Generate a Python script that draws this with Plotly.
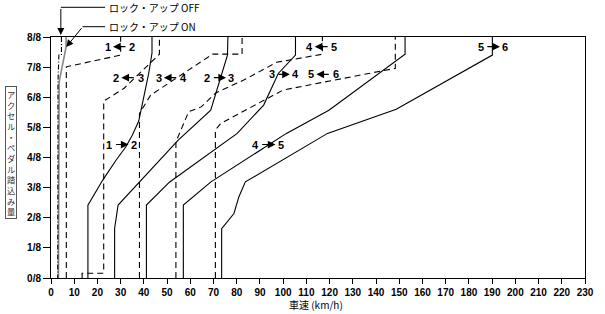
import plotly.graph_objects as go

# ---------------- data (km/h vs accelerator opening in eighths) ----------------
y_ticks = [0, 1, 2, 3, 4, 5, 6, 7, 8]
y_ticklabels = ["0/8", "1/8", "2/8", "3/8", "4/8", "5/8", "6/8", "7/8", "8/8"]

# up-shift lines (solid)
up12_x = [15.9, 15.9, 22.3, 28.0, 32.2, 35.0, 37.8, 40.7, 42.1, 43.5, 43.5]
up12_y = [0, 2.42, 3.25, 3.91, 4.35, 4.74, 5.21, 6.24, 6.80, 7.47, 8]
up23_x = [27.4, 27.4, 28.9, 50.5, 54.8, 68.8, 76.0, 76.2]
up23_y = [0, 1.65, 2.42, 4.24, 4.58, 5.57, 7.40, 8]
up34_x = [41.1, 41.1, 51.0, 63.3, 80.2, 91.6, 97.9, 105.3, 105.3]
up34_y = [0, 2.42, 3.18, 3.86, 4.80, 5.74, 6.79, 7.40, 8]
up45_x = [57.0, 57.0, 68.9, 101.4, 119.7, 152.5, 152.5]
up45_y = [0, 2.42, 3.19, 4.80, 5.57, 7.43, 8]
up56_x = [73.5, 73.5, 78.8, 80.9, 83.7, 119.1, 148.7, 190.1, 190.1]
up56_y = [0, 1.64, 2.14, 2.69, 3.19, 4.80, 5.60, 7.40, 8]

# down-shift lines (dashed)
dn21_x = [6.6, 6.6, 30.0, 30.0]
dn21_y = [0, 7.01, 7.40, 8]
dn32_x = [13.4, 13.4, 22.7, 22.7, 31.5, 46.7, 46.7]
dn32_y = [0, 0.16, 0.16, 5.87, 6.30, 7.43, 8]
dn43_x = [38.1, 38.1, 42.9, 63.3, 69.6, 82.3, 82.3]
dn43_y = [0, 5.46, 6.07, 7.10, 7.43, 7.43, 8]
dn54_x = [53.8, 53.8, 59.3, 64.7, 70.9, 83.0, 97.2, 116.9, 116.9]
dn54_y = [0, 4.52, 5.52, 5.68, 6.14, 6.57, 7.16, 7.43, 8]
dn65_x = [70.8, 70.8, 73.1, 92.9, 100.0, 148.3, 148.3]
dn65_y = [0, 4.91, 5.13, 5.96, 6.24, 6.96, 8]

# lock-up lines
lockup_off_x = [4.5, 4.5, 3.4, 3.0, 2.9]
lockup_off_y = [8, 7.40, 7.40, 6.5, 0]
lockup_on_x = [6.5, 6.5, 3.5, 3.2]
lockup_on_y = [8, 7.67, 6.5, 0]

# shift labels: (left gear, right gear, left x, right x, y, arrow points right?)
label_left = ["1", "2", "3", "2", "3", "4", "5", "4", "1", "5"]
label_right = ["2", "3", "4", "3", "4", "5", "6", "5", "2", "6"]
label_x1 = [24.4, 28.0, 46.3, 67.2, 95.0, 111.3, 112.0, 88.0, 25.1, 185.0]
label_x2 = [35.0, 38.6, 56.9, 77.7, 105.2, 122.1, 122.6, 99.0, 35.7, 195.7]
label_y = [7.68, 6.65, 6.65, 6.65, 6.76, 7.68, 6.76, 4.43, 4.43, 7.68]
label_up = [False, False, False, True, True, False, False, True, True, True]

x_title = "車速 (km/h)"
y_title = "アクセル・ペダル踏込み量"
legend_off = "ロック・アップ OFF"
legend_on = "ロック・アップ ON"

# ---------------- figure ----------------
W, H = 605, 314
ML, MR, MT, MB = 51, 11, 37, 36
PW, PH = W - ML - MR, H - MT - MB


def px_x(p):
    return (p - ML) / PW


def px_y(p):
    return (H - MB - p) / PH


fig = go.Figure()

solid = dict(color="black", width=1.1)
dashed = dict(color="black", width=1.1, dash="6px,4px")

for xs, ys in [(up12_x, up12_y), (up23_x, up23_y), (up34_x, up34_y),
               (up45_x, up45_y), (up56_x, up56_y)]:
    fig.add_trace(go.Scatter(x=xs, y=ys, mode="lines", line=solid,
                             showlegend=False, hoverinfo="skip"))
for xs, ys in [(dn21_x, dn21_y), (dn32_x, dn32_y), (dn43_x, dn43_y),
               (dn54_x, dn54_y), (dn65_x, dn65_y)]:
    fig.add_trace(go.Scatter(x=xs, y=ys, mode="lines", line=dashed,
                             showlegend=False, hoverinfo="skip"))

fig.add_trace(go.Scatter(x=lockup_on_x, y=lockup_on_y, mode="lines",
                         line=dict(color="#888888", width=1.6),
                         showlegend=False, hoverinfo="skip"))
fig.add_trace(go.Scatter(x=lockup_off_x, y=lockup_off_y, mode="lines",
                         line=dict(color="black", width=1.1, dash="5px,2px,1px,2px"),
                         showlegend=False, hoverinfo="skip"))

ann = []
lab_font = dict(family="Liberation Sans, Arial, sans-serif", size=11,
                color="black", weight="bold")
gap = 2.3
for a, b, x1, x2, y, up in zip(label_left, label_right, label_x1, label_x2,
                                label_y, label_up):
    ann.append(dict(x=x1, y=y, xref="x", yref="y", text=a, showarrow=False,
                    font=lab_font))
    ann.append(dict(x=x2, y=y, xref="x", yref="y", text=b, showarrow=False,
                    font=lab_font))
    if up:
        hx, tx = x2 - gap, x1 + gap
    else:
        hx, tx = x1 + gap, x2 - gap
    ann.append(dict(x=hx, y=y, ax=tx, ay=y, xref="x", yref="y", axref="x",
                    ayref="y", text="", showarrow=True, arrowhead=2,
                    arrowsize=1.4, arrowwidth=1.1, arrowcolor="black",
                    standoff=0, startstandoff=0))

# legend texts and pointer arrows
leg_font = dict(family="Noto Sans CJK JP, sans-serif", size=10, color="black")
ann.append(dict(x=px_x(108), y=px_y(8), xref="paper", yref="paper",
                text=legend_off, showarrow=False, xanchor="left",
                yanchor="middle", font=leg_font))
ann.append(dict(x=px_x(108), y=px_y(27), xref="paper", yref="paper",
                text=legend_on, showarrow=False, xanchor="left",
                yanchor="middle", font=leg_font))
ann.append(dict(x=px_x(61), y=px_y(35), xref="paper", yref="paper",
                ax=0, ay=-27.5, text="", showarrow=True, arrowhead=2,
                arrowsize=1.4, arrowwidth=1, arrowcolor="black", standoff=0))
ann.append(dict(x=px_x(66.5), y=px_y(47), xref="paper", yref="paper",
                ax=16.5, ay=-20.3, text="", showarrow=True, arrowhead=2,
                arrowsize=1.4, arrowwidth=1, arrowcolor="black", standoff=0))

shapes = [
    dict(type="line", xref="paper", yref="paper", x0=px_x(61), x1=px_x(106),
         y0=px_y(7.3), y1=px_y(7.3), line=dict(color="black", width=1)),
    dict(type="line", xref="paper", yref="paper", x0=px_x(83), x1=px_x(106),
         y0=px_y(26.7), y1=px_y(26.7), line=dict(color="black", width=1)),
]

# vertical y title (one character per line) in a bordered box
ann.append(dict(x=px_x(10.8), y=px_y(152), xref="paper", yref="paper",
                text="<br>".join(list(y_title)), showarrow=False,
                xanchor="center", yanchor="middle", align="center",
                bordercolor="#555555", borderwidth=1, borderpad=1,
                bgcolor="white",
                font=dict(family="Noto Sans CJK JP, sans-serif", size=8.2,
                          color="#333333")))

ann.append(dict(x=px_x(320), y=px_y(304), xref="paper", yref="paper",
                text=x_title, showarrow=False, xanchor="center",
                yanchor="middle",
                font=dict(family="Noto Sans CJK JP, sans-serif", size=10,
                          color="black")))

tick_font = dict(family="Liberation Sans, Arial, sans-serif", size=10,
                 color="black", weight="bold")

fig.update_layout(
    width=W, height=H,
    margin=dict(l=ML, r=MR, t=MT, b=MB, pad=0),
    paper_bgcolor="white", plot_bgcolor="white",
    showlegend=False,
    annotations=ann, shapes=shapes,
    xaxis=dict(range=[0, 230], tick0=0, dtick=10, ticks="outside", ticklen=5,
               tickcolor="black", showline=True, linecolor="black",
               linewidth=1, mirror=True, showgrid=False, zeroline=False,
               tickfont=tick_font),
    yaxis=dict(range=[0, 8], tickvals=y_ticks, ticktext=y_ticklabels,
               ticks="outside", ticklen=7, tickcolor="black", showline=True,
               linecolor="black", linewidth=1, mirror=True, showgrid=False,
               zeroline=False, tickfont=tick_font),
)

fig.write_html("out.html")
